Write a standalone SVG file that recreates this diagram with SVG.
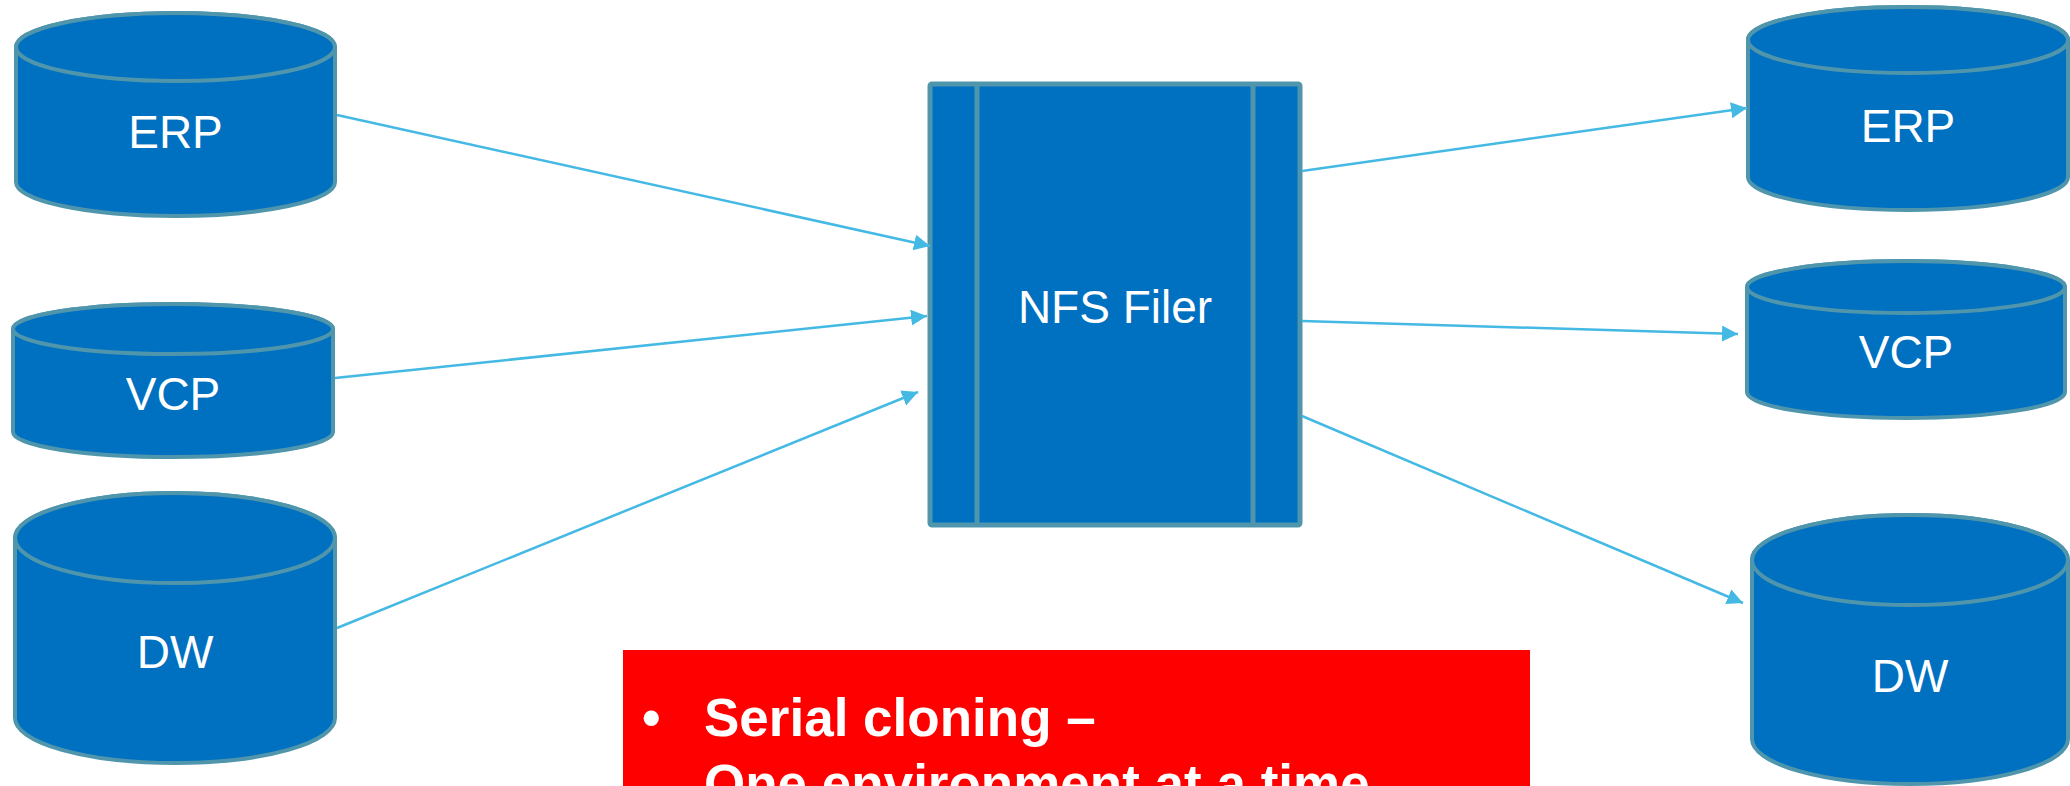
<svg xmlns="http://www.w3.org/2000/svg" width="2070" height="786" viewBox="0 0 2070 786">
  <style>
    .cyl { fill: #0070C0; stroke: #4F96AD; stroke-width: 4; }
    .lbl { font-family: "Liberation Sans", Arial, sans-serif; font-size: 46px; fill: #FFFFFF; text-anchor: middle; }
    .conn { stroke: #44B9E4; stroke-width: 2.5; fill: none; marker-end: url(#ah); }
    .note { font-family: "Liberation Sans", Arial, sans-serif; font-size: 53px; font-weight: bold; fill: #FFFFFF; }
  </style>
  <defs>
    <marker id="ah" markerUnits="userSpaceOnUse" markerWidth="18" markerHeight="18" refX="16" refY="8" orient="auto">
      <path d="M0,0 L16,8 L0,16 Z" fill="#44B9E4"/>
    </marker>
  </defs>
  <rect width="2070" height="786" fill="#FFFFFF"/>

  <g id="src-erp">
    <path class="cyl" d="M16,47 L16,182 A159.5,34 0 0 0 335,182 L335,47 A159.5,34 0 0 0 16,47 Z"/>
    <ellipse class="cyl" cx="175.5" cy="47" rx="159.5" ry="34"/>
    <text class="lbl" x="175.5" y="148">ERP</text>
  </g>
  <g id="src-vcp">
    <path class="cyl" d="M13,329 L13,432 A160,25 0 0 0 333,432 L333,329 A160,25 0 0 0 13,329 Z"/>
    <ellipse class="cyl" cx="173" cy="329" rx="160" ry="25"/>
    <text class="lbl" x="173" y="410">VCP</text>
  </g>
  <g id="src-dw">
    <path class="cyl" d="M15,538 L15,718 A160,45 0 0 0 335,718 L335,538 A160,45 0 0 0 15,538 Z"/>
    <ellipse class="cyl" cx="175" cy="538" rx="160" ry="45"/>
    <text class="lbl" x="175" y="668">DW</text>
  </g>

  <g id="nfs-filer">
    <rect x="930" y="84" width="370" height="441" rx="2" fill="#0070C0" stroke="#4F96AD" stroke-width="5"/>
    <line x1="977" y1="84" x2="977" y2="525" stroke="#4F96AD" stroke-width="5"/>
    <line x1="1253" y1="84" x2="1253" y2="525" stroke="#4F96AD" stroke-width="5"/>
    <text class="lbl" x="1115" y="323">NFS Filer</text>
  </g>

  <g id="dst-erp">
    <path class="cyl" d="M1748,40 L1748,177 A160,33 0 0 0 2068,177 L2068,40 A160,33 0 0 0 1748,40 Z"/>
    <ellipse class="cyl" cx="1908" cy="40" rx="160" ry="33"/>
    <text class="lbl" x="1908" y="142">ERP</text>
  </g>
  <g id="dst-vcp">
    <path class="cyl" d="M1747,287 L1747,392 A159,26 0 0 0 2065,392 L2065,287 A159,26 0 0 0 1747,287 Z"/>
    <ellipse class="cyl" cx="1906" cy="287" rx="159" ry="26"/>
    <text class="lbl" x="1906" y="368">VCP</text>
  </g>
  <g id="dst-dw">
    <path class="cyl" d="M1752,560 L1752,739 A158,45 0 0 0 2068,739 L2068,560 A158,45 0 0 0 1752,560 Z"/>
    <ellipse class="cyl" cx="1910" cy="560" rx="158" ry="45"/>
    <text class="lbl" x="1910" y="692">DW</text>
  </g>

  <g id="connectors">
    <line class="conn" x1="337" y1="115" x2="930" y2="246"/>
    <line class="conn" x1="335" y1="378" x2="927" y2="316"/>
    <line class="conn" x1="337" y1="628" x2="918" y2="392"/>
    <line class="conn" x1="1302" y1="171" x2="1747" y2="108"/>
    <line class="conn" x1="1302" y1="321" x2="1738" y2="334"/>
    <line class="conn" x1="1302" y1="416" x2="1743" y2="603"/>
  </g>

  <g id="note">
    <rect x="623" y="650" width="907" height="140" fill="#FF0000"/>
    <text class="note" x="642" y="736">•</text>
    <text class="note" x="704" y="736">Serial cloning –</text>
    <text class="note" x="704" y="802">One environment at a time</text>
  </g>
</svg>
